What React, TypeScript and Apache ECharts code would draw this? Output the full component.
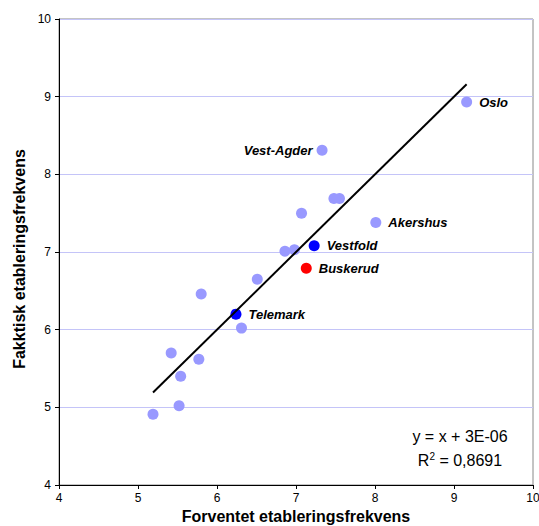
import React, { useEffect, useRef } from "react";
import * as echarts from "echarts";

const countyLabels = ["Oslo", "Vest-Agder", "", "", "", "Akershus", "Vestfold", "", "", "Buskerud", "", "", "Telemark", "", "", "", "", "", ""];
const expectedRate = [9.16, 7.33, 7.48, 7.55, 7.07, 8.01, 7.23, 6.86, 6.98, 7.13, 6.51, 5.8, 6.24, 6.31, 5.42, 5.77, 5.54, 5.52, 5.19];
const actualRate = [8.93, 8.31, 7.69, 7.69, 7.5, 7.38, 7.08, 7.01, 7.03, 6.79, 6.65, 6.46, 6.2, 6.02, 5.7, 5.62, 5.4, 5.02, 4.91];
const highlighted = { Vestfold: "#0000FF", Telemark: "#0000FF", Buskerud: "#FF0000" } as Record<string, string>;
const trendSlope = 1;
const trendIntercept = 3e-6;
const equationText = "y = x + 3E-06";
const rSquaredText = "0,8691";
const axisTicks = [4, 5, 6, 7, 8, 9, 10];

const FONT = 'Arial, "Liberation Sans", sans-serif';

export default function App() {
  const ref = useRef<HTMLDivElement>(null);
  useEffect(() => {
    if (!ref.current) return;
    const chart = echarts.init(ref.current, undefined, { renderer: "svg" });
    const xMin = Math.min(...expectedRate);
    const xMax = Math.max(...expectedRate);
    const points = expectedRate.map((x, i) => {
      const name = countyLabels[i];
      const color = highlighted[name] || "#9999FF";
      return {
        name,
        value: [x, actualRate[i]],
        itemStyle: { color, opacity: 1 },
        label: {
          show: name !== "",
          position: name === "Vest-Agder" ? "left" : "right",
          distance: name === "Vest-Agder" ? 4 : 7,
        },
      };
    });
    chart.setOption({
      animation: false,
      textStyle: { fontFamily: FONT },
      grid: {
        left: 59,
        right: 6,
        top: 19,
        bottom: 41,
        outerBoundsMode: "none",
        containLabel: false,
        show: true,
        borderColor: "#888888",
        borderWidth: 1,
        backgroundColor: "#ffffff",
      },
      xAxis: {
        type: "value",
        min: axisTicks[0],
        max: axisTicks[axisTicks.length - 1],
        interval: 1,
        name: "Forventet etableringsfrekvens",
        nameLocation: "middle",
        nameGap: 23,
        nameMoveOverlap: false,
        nameTextStyle: { fontSize: 16, fontWeight: "bold", color: "#000", fontFamily: FONT, lineHeight: 17 },
        axisLine: { show: true, onZero: false, lineStyle: { color: "#000", width: 1 } },
        axisTick: { show: true, length: 4, lineStyle: { color: "#000" } },
        axisLabel: { fontSize: 12, color: "#000", margin: 7, fontFamily: FONT },
        splitLine: { show: false },
      },
      yAxis: {
        type: "value",
        min: axisTicks[0],
        max: axisTicks[axisTicks.length - 1],
        interval: 1,
        name: "Fakktisk etableringsfrekvens",
        nameLocation: "middle",
        nameGap: 32,
        nameMoveOverlap: false,
        nameTextStyle: { fontSize: 16, fontWeight: "bold", color: "#000", fontFamily: FONT, padding: [0, 14, 0, 0] },
        axisLine: { show: true, onZero: false, lineStyle: { color: "#000", width: 1 } },
        axisTick: { show: true, length: 4, lineStyle: { color: "#000" } },
        axisLabel: { fontSize: 12, color: "#000", margin: 8, fontFamily: FONT },
        splitLine: { show: true, lineStyle: { color: "#C4C4F8", width: 1 } },
      },
      series: [
        {
          type: "scatter",
          symbol: "circle",
          symbolSize: 11,
          data: points,
          itemStyle: { opacity: 1 },
          label: {
            formatter: "{b}",
            fontSize: 13,
            fontWeight: "bold",
            fontStyle: "italic",
            color: "#000",
            fontFamily: FONT,
          },
          z: 2,
        },
        {
          type: "line",
          data: [
            [xMin, trendSlope * xMin + trendIntercept],
            [xMax, trendSlope * xMax + trendIntercept],
          ],
          symbol: "none",
          lineStyle: { color: "#000", width: 2 },
          z: 3,
        },
      ],
      graphic: [
        {
          type: "text",
          x: 460,
          y: 436,
          style: {
            text: equationText,
            fontSize: 16,
            fontFamily: FONT,
            fill: "#000",
            align: "center",
            verticalAlign: "middle",
          },
        },
        {
          type: "text",
          x: 460,
          y: 460,
          style: {
            text: "{r|R}{s|2}{r| = " + rSquaredText + "}",
            fontFamily: FONT,
            fill: "#000",
            align: "center",
            verticalAlign: "middle",
            rich: {
              r: { fontSize: 16, fontFamily: FONT, fill: "#000" },
              s: { fontSize: 10, fontFamily: FONT, fill: "#000", verticalAlign: "top", padding: [0, 0, 8, 0] },
            },
          },
        },
      ],
    });
    return () => chart.dispose();
  }, []);
  return (
    <div
      ref={ref}
      style={{ position: "fixed", left: 0, top: 0, width: 539, height: 526, background: "#fff" }}
    />
  );
}
